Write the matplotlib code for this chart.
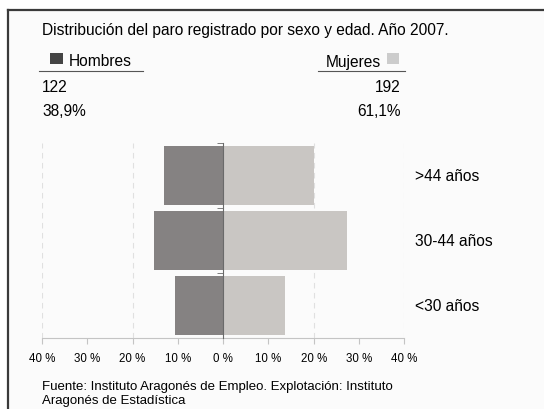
import numpy as np
import matplotlib
matplotlib.use("Agg")
import matplotlib.pyplot as plt
from matplotlib.transforms import blended_transform_factory
from matplotlib.patches import Rectangle
from matplotlib.lines import Line2D

plt.rcParams['font.family'] = ['Liberation Sans', 'DejaVu Sans']

# data (percent of total registered unemployed)
age_groups = ['<30 años', '30-44 años', '>44 años']
hombres_pct = [10.7, 15.2, 13.0]
mujeres_pct = [13.7, 27.3, 20.1]
total_labels = ['Hombres', 'Mujeres']
total_counts = [122, 192]
total_shares = ['38,9%', '61,1%']
xticks = [-40, -30, -20, -10, 0, 10, 20, 30, 40]
grid_x = [-40, -20, 20, 40]

title = 'Distribución del paro registrado por sexo y edad. Año 2007.'
source = ('Fuente: Instituto Aragonés de Empleo. Explotación: Instituto\n'
          'Aragonés de Estadística')

C_MEN = '#858282'
C_WOMEN = '#c9c6c3'
W, H = 544, 410
FS = 11.2

fig = plt.figure(figsize=(W / 100, H / 100), dpi=100, facecolor='white')

def fx(px):
    return px / W

def fy(py):
    return 1 - py / H

# panel background and frame (top + left only)
fig.patches.append(Rectangle((fx(7), 0), 1 - fx(7), fy(10.5), transform=fig.transFigure,
                             facecolor='#fbfbfb', edgecolor='none', zorder=-5))
fig.lines.append(Line2D([fx(7.5), 1], [fy(10.5), fy(10.5)], transform=fig.transFigure,
                        color='#3a3a3a', lw=1.6, zorder=-4))
fig.lines.append(Line2D([fx(7.5), fx(7.5)], [0, fy(10.5)], transform=fig.transFigure,
                        color='#3a3a3a', lw=1.6, zorder=-4))

ax = fig.add_axes([fx(42), fy(339), fx(404.3) - fx(42), fy(144) - fy(339)])
ax.set_facecolor('none')
ax.set_zorder(2)

y = np.arange(len(age_groups))
ax.barh(y, -np.array(hombres_pct), height=0.92, color=C_MEN, zorder=2)
ax.barh(y, mujeres_pct, height=0.92, color=C_WOMEN, zorder=2)

for gx in grid_x:
    ax.axvline(gx, color='#e0e0e0', lw=0.8, ls=(0, (5, 4)), zorder=1)

ax.set_xlim(-40, 40)
ax.set_ylim(-0.5, 2.5)

for s in ['top', 'right']:
    ax.spines[s].set_visible(False)
ax.spines['left'].set_position(('data', 0))
ax.spines['left'].set_color('#6a6a6a')
ax.spines['left'].set_zorder(3)
ax.spines['bottom'].set_color('#c4c4c4')

ax.set_xticks(xticks)
ax.set_xticklabels([f'{abs(v)} %' for v in xticks], fontsize=8.3)
ax.tick_params(axis='x', length=4, color='#c4c4c4', pad=6)
ax.set_yticks(y)
ax.set_yticklabels([])
ax.set_yticks([-0.5 + i for i in range(1, len(age_groups) + 1)], minor=True)
ax.tick_params(axis='y', which='major', length=2, color='#6a6a6a')
ax.tick_params(axis='y', which='minor', length=4, color='#6a6a6a')

tr = blended_transform_factory(ax.transAxes, ax.transData)
for yi, lab in zip(y, age_groups):
    ax.text(1.03, yi, lab, transform=tr, fontsize=FS, va='center', ha='left')

# header block
fig.text(fx(42), fy(30), title, fontsize=FS, va='center', ha='left')

fig.patches.append(Rectangle((fx(50), fy(65)), fx(13), fy(54) - fy(65), transform=fig.transFigure,
                             facecolor='#444444', edgecolor='none'))
fig.text(fx(69), fy(62), total_labels[0], fontsize=FS, va='center', ha='left')
fig.lines.append(Line2D([fx(39), fx(143)], [fy(72), fy(72)], transform=fig.transFigure,
                        color='#555555', lw=0.8))

fig.patches.append(Rectangle((fx(387), fy(65)), fx(12), fy(54) - fy(65), transform=fig.transFigure,
                             facecolor='#cccccc', edgecolor='none'))
fig.text(fx(381), fy(62), total_labels[1], fontsize=FS, va='center', ha='right')
fig.lines.append(Line2D([fx(318), fx(405)], [fy(72), fy(72)], transform=fig.transFigure,
                        color='#555555', lw=0.8))

fig.text(fx(42), fy(88), str(total_counts[0]), fontsize=FS, va='center', ha='left')
fig.text(fx(401), fy(88), str(total_counts[1]), fontsize=FS, va='center', ha='right')
fig.text(fx(42), fy(112), total_shares[0], fontsize=FS, va='center', ha='left')
fig.text(fx(401), fy(112), total_shares[1], fontsize=FS, va='center', ha='right')

fig.text(fx(42), fy(394), source, fontsize=9.5, va='center', ha='left', linespacing=1.3)

fig.savefig('out.png', dpi=100, facecolor=fig.get_facecolor())
